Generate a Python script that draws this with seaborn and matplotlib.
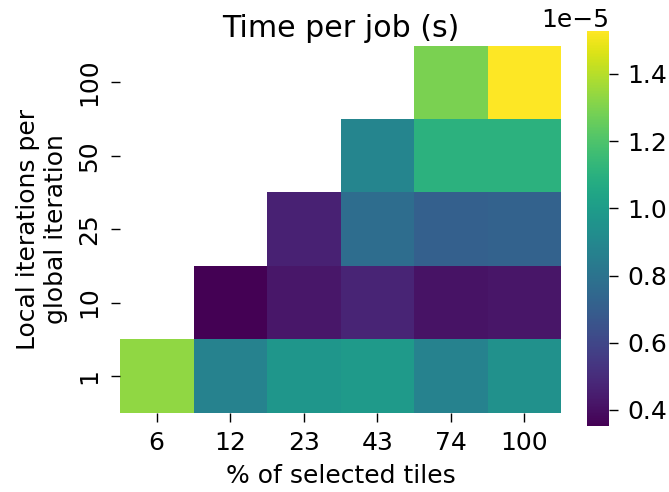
import numpy as np
import pandas as pd
import matplotlib
matplotlib.use("Agg")
import matplotlib.pyplot as plt
import seaborn as sns

plt.rcParams.update({
    "font.size": 18,
    "xtick.major.size": 6.5,
    "ytick.major.size": 6.5,
    "xtick.major.width": 1.0,
    "ytick.major.width": 1.0,
    "xtick.major.pad": 7,
    "ytick.major.pad": 7,
})

# % of selected tiles (columns) and local iterations per global iteration (rows)
tiles_pct = [6, 12, 23, 43, 74, 100]
local_iters = [100, 50, 25, 10, 1]

# Time per job in seconds; NaN where the configuration was not run
row_100 = [np.nan, np.nan, np.nan, np.nan, 1.293e-5, 1.528e-5]
row_50 = [np.nan, np.nan, np.nan, 0.89e-5, 1.105e-5, 1.105e-5]
row_25 = [np.nan, np.nan, 0.46e-5, 0.767e-5, 0.71e-5, 0.717e-5]
row_10 = [np.nan, 0.353e-5, 0.425e-5, 0.47e-5, 0.41e-5, 0.42e-5]
row_1 = [1.335e-5, 0.87e-5, 0.97e-5, 0.99e-5, 0.87e-5, 0.945e-5]

df = pd.DataFrame([row_100, row_50, row_25, row_10, row_1],
                  index=local_iters, columns=tiles_pct)

fig = plt.figure(figsize=(6.69, 4.92), dpi=100)
W, H = 669, 492
ax = fig.add_axes([120 / W, (H - 412.7) / H, 441 / W, 367 / H])
cax = fig.add_axes([587 / W, (H - 425.7) / H, 22 / W, 394.7 / H])

sns.heatmap(df, cmap="viridis", ax=ax, cbar_ax=cax)

ax.set_title("Time per job (s)")
ax.set_xlabel("% of selected tiles", labelpad=6)
ax.set_ylabel("Local iterations per\nglobal iteration", labelpad=7)
plt.setp(ax.get_yticklabels(), rotation=90, va="center")
plt.setp(ax.get_xticklabels(), rotation=0)

fig.savefig("out.png", dpi=100)
